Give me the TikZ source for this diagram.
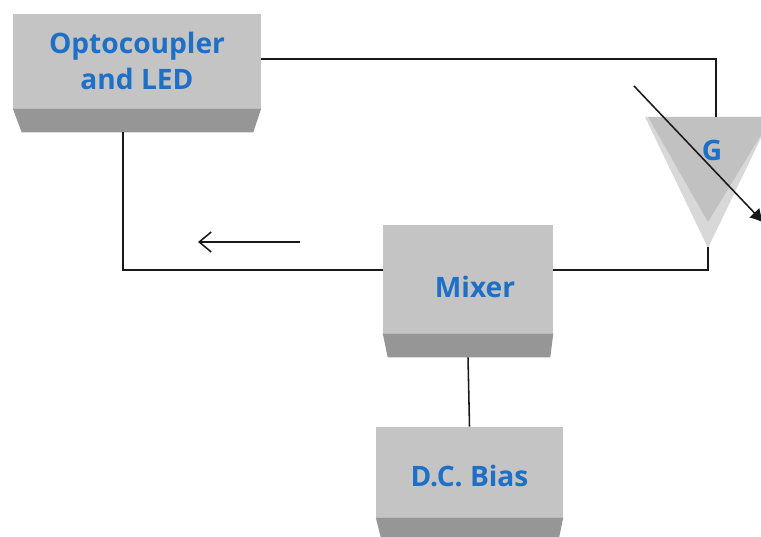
\documentclass[tikz,border=0pt]{standalone}
\usepackage{fontspec}
\newfontfamily\labelfont{Open Sans}
\usepackage{tikz}
\usetikzlibrary{positioning,arrows.meta}

\definecolor{faceGray}{RGB}{196,196,196}
\definecolor{bevelGray}{RGB}{150,150,150}
\definecolor{triLight}{RGB}{216,216,216}
\definecolor{triDark}{RGB}{193,193,193}
\definecolor{labelBlue}{RGB}{30,112,198}

\begin{document}
\begin{tikzpicture}[x=0.025cm, y=-0.025cm, >=Latex,
    block/.style={fill=faceGray, inner sep=0pt, align=center, text=labelBlue,
      font=\labelfont\bfseries\fontsize{20}{26}\selectfont},
    bevel/.style={fill=bevelGray},
    wire/.style={line width=1.1pt, black!90}]
    \useasboundingbox (0,0) rectangle (761,537);
    \clip (0,0) rectangle (761,537);

    % boxes (top face + bevel)
    \node[block, minimum width=6.2cm, minimum height=2.35cm] (opto) at (137,61) {Optocoupler\\and LED};
    \fill[bevel] (opto.south west) -- (opto.south east) -- ([shift={(-8,24)}]opto.south east) -- ([shift={(9,24)}]opto.south west) -- cycle;
    \coordinate (optofoot) at ([shift={(0,24)}]opto.south);

    \node[block, minimum width=4.25cm, minimum height=2.7cm, text height=27pt, text depth=0pt] (mixer) at (468,279) {\hspace*{0.35cm}Mixer};
    \fill[bevel] (mixer.south west) -- (mixer.south east) -- ([shift={(-3,24)}]mixer.south east) -- ([shift={(5,24)}]mixer.south west) -- cycle;
    \coordinate (mixerfoot) at ([shift={(0,24)}]mixer.south);

    \node[block, minimum width=4.675cm, minimum height=2.25cm, text height=21pt, text depth=0pt] (bias) at (469.5,472) {D.C. Bias};
    \fill[bevel] (bias.south west) -- (bias.south east) -- ([shift={(-5,24)}]bias.south east) -- ([shift={(6,24)}]bias.south west) -- cycle;

    % gain triangle
    \fill[triLight] (645,117) -- (771,117) -- (708,248) -- cycle;
    \fill[triDark] (648,117) -- (772,117) -- (708,222) -- cycle;
    \node[text=labelBlue, font=\labelfont\bfseries\fontsize{20}{22}\selectfont] (gain) at (712,150) {G};
    \coordinate (gtop) at (716,117);
    \coordinate (gapex) at (708,247);
    \coordinate (tune) at (634,86);
    \coordinate (tunetip) at (764,223);

    % connections
    \draw[wire] (opto.east |- 0,59) -| (gtop);
    \draw[wire] (gapex) |- (mixer.east |- 0,270);
    \draw[wire] (mixer.west |- 0,270) -| (123,0 |- optofoot);
    \draw[wire] (mixerfoot) -- (bias.north);
    \draw[wire, -{Latex[length=3.5mm,width=3.5mm]}] (tune) -- (tunetip);

    \coordinate (flowstart) at (300,242);
    \coordinate (flowend) at (198,242);
    \draw[wire, -{Straight Barb[length=3mm,width=5mm]}] (flowstart) -- (flowend);
\end{tikzpicture}
\end{document}
